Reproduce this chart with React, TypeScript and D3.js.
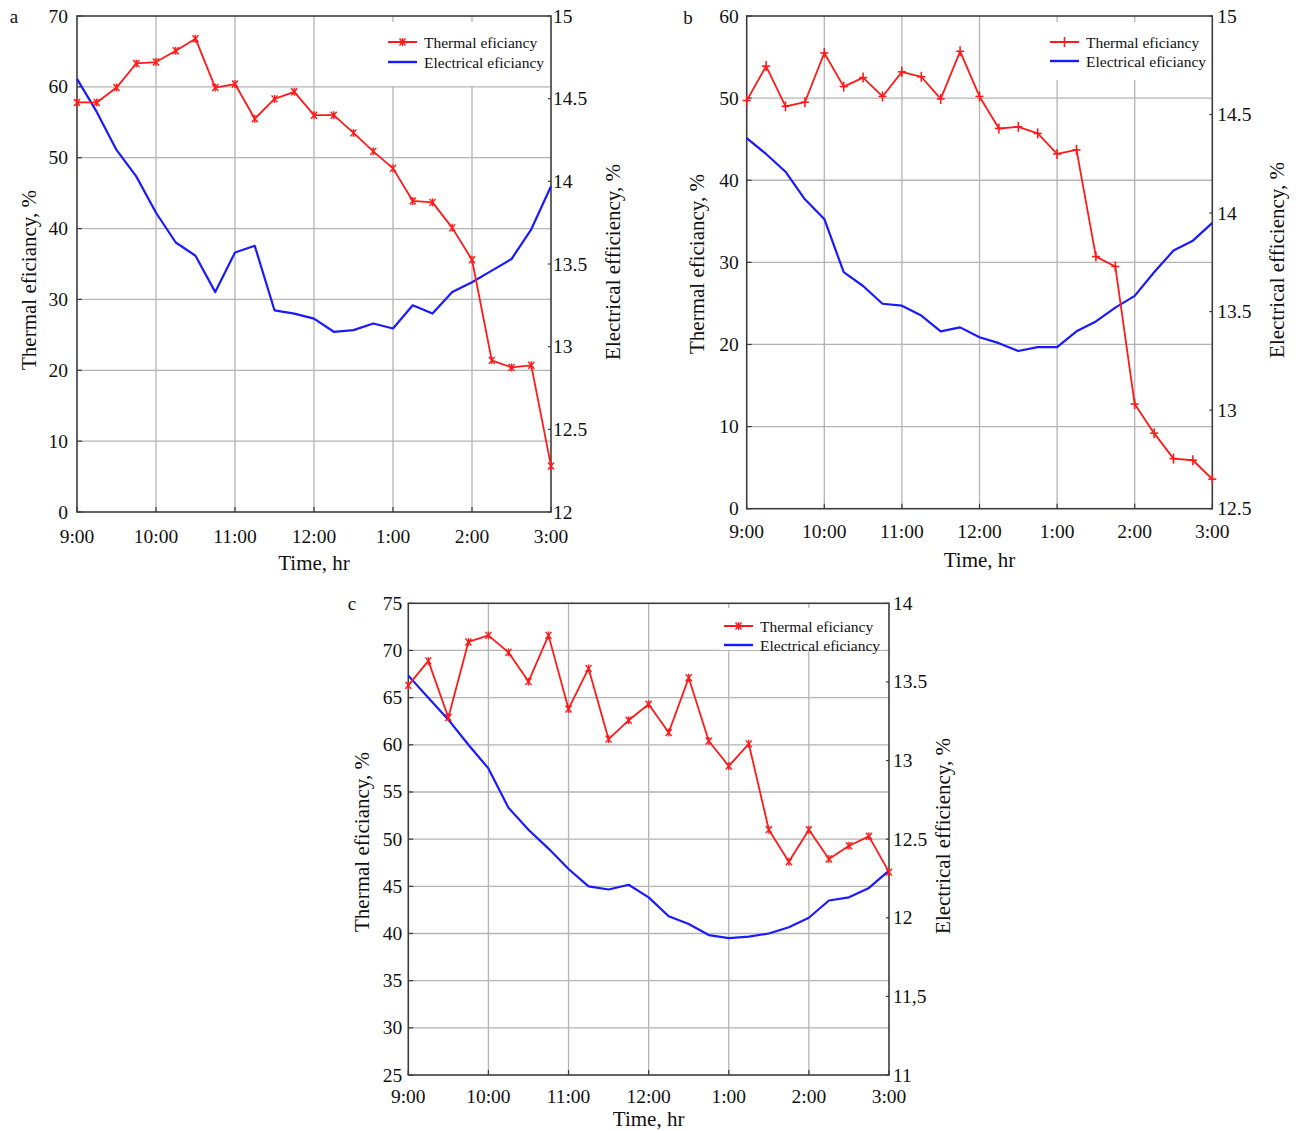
import React from "react";
import * as d3 from "d3";

// ---------- data ----------
const minutesSince9 = [0, 15, 30, 45, 60, 75, 90, 105, 120, 135, 150, 165, 180, 195, 210, 225, 240, 255, 270, 285, 300, 315, 330, 345, 360];
const hourTicks = [0, 60, 120, 180, 240, 300, 360];
const hourLabels = ["9:00", "10:00", "11:00", "12:00", "1:00", "2:00", "3:00"];

const thermalA = [57.8, 57.8, 59.9, 63.3, 63.5, 65.1, 66.8, 59.9, 60.4, 55.5, 58.3, 59.3, 56.0, 56.0, 53.5, 50.9, 48.5, 43.9, 43.7, 40.1, 35.6, 21.4, 20.4, 20.7, 6.5];
const electricalA = [14.62, 14.42, 14.19, 14.03, 13.81, 13.63, 13.55, 13.33, 13.57, 13.61, 13.22, 13.2, 13.17, 13.09, 13.1, 13.14, 13.11, 13.25, 13.2, 13.33, 13.39, 13.46, 13.53, 13.71, 13.97];

const thermalB = [49.7, 53.9, 49.0, 49.5, 55.5, 51.4, 52.5, 50.2, 53.2, 52.6, 49.9, 55.7, 50.2, 46.3, 46.5, 45.7, 43.2, 43.7, 30.7, 29.5, 12.75, 9.2, 6.1, 5.9, 3.6];
const electricalB = [14.38, 14.3, 14.21, 14.07, 13.97, 13.7, 13.63, 13.54, 13.53, 13.48, 13.4, 13.42, 13.37, 13.34, 13.3, 13.32, 13.32, 13.4, 13.45, 13.52, 13.58, 13.7, 13.81, 13.86, 13.95];

const thermalC = [66.3, 68.9, 62.9, 70.9, 71.6, 69.8, 66.7, 71.6, 63.8, 68.1, 60.6, 62.6, 64.3, 61.3, 67.1, 60.4, 57.75, 60.1, 51.0, 47.6, 51.0, 47.9, 49.3, 50.3, 46.5];
const electricalC = [13.54, 13.4, 13.26, 13.1, 12.95, 12.7, 12.56, 12.44, 12.31, 12.2, 12.18, 12.21, 12.13, 12.01, 11.96, 11.89, 11.87, 11.88, 11.9, 11.94, 12.0, 12.11, 12.13, 12.19, 12.3];

const leftTicksA = [0, 10, 20, 30, 40, 50, 60, 70];
const rightTicksA = [12, 12.5, 13, 13.5, 14, 14.5, 15];
const rightLabelsA = ["12", "12.5", "13", "13.5", "14", "14.5", "15"];

const leftTicksB = [0, 10, 20, 30, 40, 50, 60];
const rightTicksB = [12.5, 13, 13.5, 14, 14.5, 15];
const rightLabelsB = ["12.5", "13", "13.5", "14", "14.5", "15"];

const leftTicksC = [25, 30, 35, 40, 45, 50, 55, 60, 65, 70, 75];
const rightTicksC = [11, 11.5, 12, 12.5, 13, 13.5, 14];
const rightLabelsC = ["11", "11,5", "12", "12.5", "13", "13.5", "14"];

const legendThermal = "Thermal eficiancy";
const legendElectrical = "Electrical eficiancy";
const leftTitle = "Thermal eficiancy, %";
const rightTitle = "Electrical efficiency, %";
const xTitle = "Time, hr";

// ---------- layout ----------
const FONT = "'Liberation Serif', 'Times New Roman', serif";
const RED = "#ff1a1a";
const BLUE = "#1a1aff";
const GRID = "#b4b4b4";
const AXIS = "#3c3c3c";

type PanelCfg = {
  label: string;
  left: number; right: number; top: number; bottom: number;
  leftDomain: [number, number]; rightDomain: [number, number];
  leftTicks: number[]; rightTicks: number[]; rightLabels: string[];
  thermal: number[]; electrical: number[];
  marker: "star" | "plus";
  labelPos: [number, number];
  leftTitleX: number; leftTitleY: number;
  rightTitleX: number; rightTitleY: number;
  xTickDy: number; xTitleDy: number;
  leftLabelGap: number; rightLabelGap: number;
  legend: { boxX: number; boxY: number; boxW: number; boxH: number; lineX: number; lineY1: number; lineY2: number };
};

const panels: PanelCfg[] = [
  {
    label: "a", left: 77, right: 551, top: 16, bottom: 512,
    leftDomain: [0, 70], rightDomain: [12, 15],
    leftTicks: leftTicksA, rightTicks: rightTicksA, rightLabels: rightLabelsA,
    thermal: thermalA, electrical: electricalA, marker: "star",
    labelPos: [14, 16], leftTitleX: 29, leftTitleY: 280, rightTitleX: 613, rightTitleY: 262,
    xTickDy: 24, xTitleDy: 51, leftLabelGap: 9, rightLabelGap: 2,
    legend: { boxX: 382, boxY: 22, boxW: 166, boxH: 64, lineX: 388, lineY1: 42, lineY2: 62 },
  },
  {
    label: "b", left: 746.7, right: 1212.3, top: 16, bottom: 508.7,
    leftDomain: [0, 60], rightDomain: [12.5, 15],
    leftTicks: leftTicksB, rightTicks: rightTicksB, rightLabels: rightLabelsB,
    thermal: thermalB, electrical: electricalB, marker: "plus",
    labelPos: [688, 17], leftTitleX: 697, leftTitleY: 264, rightTitleX: 1277, rightTitleY: 260,
    xTickDy: 23, xTitleDy: 51, leftLabelGap: 8, rightLabelGap: 5,
    legend: { boxX: 1044, boxY: 22, boxW: 165, boxH: 58, lineX: 1050, lineY1: 42, lineY2: 61 },
  },
  {
    label: "c", left: 408.3, right: 889, top: 603.3, bottom: 1075,
    leftDomain: [25, 75], rightDomain: [11, 14],
    leftTicks: leftTicksC, rightTicks: rightTicksC, rightLabels: rightLabelsC,
    thermal: thermalC, electrical: electricalC, marker: "star",
    labelPos: [352, 603], leftTitleX: 362, leftTitleY: 842, rightTitleX: 943, rightTitleY: 836,
    xTickDy: 21, xTitleDy: 44, leftLabelGap: 6, rightLabelGap: 4,
    legend: { boxX: 719, boxY: 608, boxW: 165, boxH: 42, lineX: 724, lineY1: 626, lineY2: 645 },
  },
];

function Marker({ x, y, kind }: { x: number; y: number; kind: "star" | "plus" }) {
  if (kind === "plus") {
    return (
      <g stroke={RED} strokeWidth={1.6} fill="none">
        <line x1={x - 4} y1={y} x2={x + 4} y2={y} />
        <line x1={x} y1={y - 5} x2={x} y2={y + 5} />
      </g>
    );
  }
  return (
    <g stroke={RED} strokeWidth={1.4} fill="none">
      <line x1={x - 3} y1={y - 3.5} x2={x + 3} y2={y + 3.5} />
      <line x1={x - 3} y1={y + 3.5} x2={x + 3} y2={y - 3.5} />
      <line x1={x} y1={y - 4} x2={x} y2={y + 4} />
    </g>
  );
}

function Panel({ cfg }: { cfg: PanelCfg }) {
  const x = d3.scaleLinear().domain([0, 360]).range([cfg.left, cfg.right]);
  const yL = d3.scaleLinear().domain(cfg.leftDomain).range([cfg.bottom, cfg.top]);
  const yR = d3.scaleLinear().domain(cfg.rightDomain).range([cfg.bottom, cfg.top]);

  const thermalLine = d3.line<number>().x((_, i) => x(minutesSince9[i])).y((d) => yL(d));
  const elecLine = d3.line<number>().x((_, i) => x(minutesSince9[i])).y((d) => yR(d));

  const lg = cfg.legend;
  const w = cfg.right - cfg.left;
  const h = cfg.bottom - cfg.top;

  return (
    <g>
      {cfg.leftTicks.slice(1, -1).map((t) => (
        <line key={"h" + t} x1={cfg.left} x2={cfg.right} y1={yL(t)} y2={yL(t)} stroke={GRID} strokeWidth={1.3} />
      ))}
      {hourTicks.slice(1, -1).map((t) => (
        <line key={"v" + t} x1={x(t)} x2={x(t)} y1={cfg.top} y2={cfg.bottom} stroke={GRID} strokeWidth={1.3} />
      ))}

      <rect x={lg.boxX} y={lg.boxY} width={lg.boxW} height={lg.boxH} fill="#fff" />

      <rect x={cfg.left} y={cfg.top} width={w} height={h} fill="none" stroke={AXIS} strokeWidth={1.6} />

      {hourTicks.map((t) => (
        <line key={"xt" + t} x1={x(t)} x2={x(t)} y1={cfg.bottom} y2={cfg.bottom - 5} stroke={AXIS} strokeWidth={1.2} />
      ))}
      {cfg.leftTicks.map((t) => (
        <line key={"lt" + t} x1={cfg.left} x2={cfg.left + 5} y1={yL(t)} y2={yL(t)} stroke={AXIS} strokeWidth={1.2} />
      ))}
      {cfg.rightTicks.map((t) => (
        <line key={"rt" + t} x1={cfg.right} x2={cfg.right - 3} y1={yR(t)} y2={yR(t)} stroke={AXIS} strokeWidth={1.2} />
      ))}

      <path d={elecLine(cfg.electrical) || ""} fill="none" stroke={BLUE} strokeWidth={2.2} strokeLinejoin="round" />
      <path d={thermalLine(cfg.thermal) || ""} fill="none" stroke={RED} strokeWidth={1.8} strokeLinejoin="round" />
      {cfg.thermal.map((v, i) => (
        <Marker key={"m" + i} x={x(minutesSince9[i])} y={yL(v)} kind={cfg.marker} />
      ))}

      <g fontFamily={FONT} fontSize={19.5} fill="#111">
        {cfg.leftTicks.map((t) => (
          <text key={"ll" + t} x={cfg.left - cfg.leftLabelGap} y={yL(t)} textAnchor="end" dominantBaseline="central">
            {t}
          </text>
        ))}
        {cfg.rightTicks.map((t, i) => (
          <text key={"rl" + t} x={cfg.right + cfg.rightLabelGap} y={yR(t)} textAnchor="start" dominantBaseline="central">
            {cfg.rightLabels[i]}
          </text>
        ))}
        {hourTicks.map((t, i) => (
          <text key={"xl" + t} x={x(t)} y={cfg.bottom + cfg.xTickDy} textAnchor="middle" dominantBaseline="central">
            {hourLabels[i]}
          </text>
        ))}
      </g>

      <g fontFamily={FONT} fontSize={21} fill="#111">
        <text x={(cfg.left + cfg.right) / 2} y={cfg.bottom + cfg.xTitleDy} textAnchor="middle" dominantBaseline="central">
          {xTitle}
        </text>
        <text
          transform={`translate(${cfg.leftTitleX},${cfg.leftTitleY}) rotate(-90)`}
          textAnchor="middle"
          dominantBaseline="central"
        >
          {leftTitle}
        </text>
        <text
          transform={`translate(${cfg.rightTitleX},${cfg.rightTitleY}) rotate(-90)`}
          textAnchor="middle"
          dominantBaseline="central"
        >
          {rightTitle}
        </text>
        <text x={cfg.labelPos[0]} y={cfg.labelPos[1]} textAnchor="middle" dominantBaseline="central" fontSize={19}>
          {cfg.label}
        </text>
      </g>

      <g fontFamily={FONT} fontSize={15.5} fill="#111">
        <line x1={lg.lineX} x2={lg.lineX + 29} y1={lg.lineY1} y2={lg.lineY1} stroke={RED} strokeWidth={2} />
        <Marker x={lg.lineX + 14.5} y={lg.lineY1} kind={cfg.marker} />
        <line x1={lg.lineX} x2={lg.lineX + 29} y1={lg.lineY2} y2={lg.lineY2} stroke={BLUE} strokeWidth={2.4} />
        <text x={lg.lineX + 36} y={lg.lineY1} dominantBaseline="central">{legendThermal}</text>
        <text x={lg.lineX + 36} y={lg.lineY2} dominantBaseline="central">{legendElectrical}</text>
      </g>
    </g>
  );
}

export default function App() {
  return (
    <svg
      width={1296}
      height={1131}
      viewBox="0 0 1296 1131"
      style={{ position: "absolute", left: 0, top: 0, background: "#fff" }}
    >
      <rect x={0} y={0} width={1296} height={1131} fill="#fff" />
      {panels.map((p) => (
        <Panel key={p.label} cfg={p} />
      ))}
    </svg>
  );
}
